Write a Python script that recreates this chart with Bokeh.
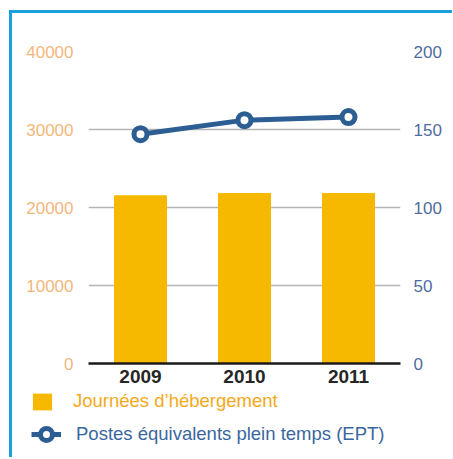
from bokeh.plotting import figure
from bokeh.layouts import column
from bokeh.models import Range1d, LinearAxis, FactorRange, Legend, LegendItem, FixedTicker, ColumnDataSource
from bokeh.embed import file_html
from bokeh.resources import INLINE

years = ["2009", "2010", "2011"]
journees = [21500, 21800, 21800]
ept = [147, 156, 158]
left_ticks = [0, 10000, 20000, 30000, 40000]
right_ticks = [0, 50, 100, 150, 200]
legend_labels = ["Journées d’hébergement", "Postes équivalents plein temps (EPT)"]

BAR = "#f6b900"
LINE = "#2c5d93"
FONT = "Liberation Sans"

p = figure(width=440, height=376, x_range=FactorRange(factors=years, range_padding=0),
           y_range=Range1d(0, 40000), output_backend="svg", toolbar_location=None,
           min_border_left=76, min_border_right=52, min_border_top=38, min_border_bottom=26)
p.frame_align = False
p.extra_y_ranges = {"ept": Range1d(0, 200)}
p.outline_line_color = None
p.background_fill_color = "white"
p.border_fill_color = "white"

src = ColumnDataSource(dict(year=years, j=journees, e=ept))

p.vbar(x="year", top="j", width=0.5, source=src, color=BAR)
p.line(x="year", y="e", source=src, y_range_name="ept", line_color=LINE, line_width=5)
p.scatter(x="year", y="e", source=src, y_range_name="ept", size=13,
          fill_color="white", line_color=LINE, line_width=5)

la = p.yaxis[0]
la.ticker = FixedTicker(ticks=left_ticks)
la.axis_line_color = None
la.major_tick_line_color = None
la.minor_tick_line_color = None
la.major_label_text_color = "#f4b77c"
la.major_label_text_font = FONT
la.major_label_text_font_size = "17px"
la.major_label_standoff = 9

ra = LinearAxis(y_range_name="ept", ticker=FixedTicker(ticks=right_ticks))
ra.axis_line_color = None
ra.major_tick_line_color = None
ra.minor_tick_line_color = None
ra.major_label_text_color = "#4f6ca0"
ra.major_label_text_font = FONT
ra.major_label_text_font_size = "17px"
ra.major_label_standoff = 7
p.add_layout(ra, "right")

xa = p.xaxis[0]
xa.axis_line_color = "#1a1a1a"
xa.axis_line_width = 2.5
xa.major_tick_line_color = None
xa.minor_tick_line_color = None
xa.major_label_text_color = "#262626"
xa.major_label_text_font = FONT
xa.major_label_text_font_size = "19px"
xa.major_label_text_font_style = "bold"
xa.major_label_standoff = 0

p.xgrid.grid_line_color = None
p.ygrid.ticker = FixedTicker(ticks=left_ticks[1:])
p.ygrid.grid_line_color = "#b5b5b5"
p.ygrid.grid_line_width = 1.5

# legend panel (its sample glyphs sit outside the visible range)
p2 = figure(width=440, height=68, x_range=Range1d(0, 1), y_range=Range1d(0, 1),
            x_axis_type=None, y_axis_type=None, output_backend="svg", toolbar_location=None,
            min_border=0)
p2.frame_align = False
p2.outline_line_color = None
p2.xgrid.grid_line_color = None
p2.ygrid.grid_line_color = None
sq = p2.vbar(x=[5], top=[5], width=0.1, fill_color=BAR, line_color=None)
ln2 = p2.line(x=[5, 6], y=[5, 5], line_color=LINE, line_width=5)
pt2 = p2.scatter(x=[5], y=[5], size=13, fill_color="white", line_color=LINE, line_width=5)

common = dict(padding=0, margin=0, border_line_color=None, background_fill_alpha=0,
              label_height=18, label_text_font=FONT, label_text_font_size="18.5px")
leg1 = Legend(items=[LegendItem(label=legend_labels[0], renderers=[sq])],
              location=(18, 45), glyph_width=24, glyph_height=21, label_standoff=19,
              label_text_color="#f3a91a", **common)
leg2 = Legend(items=[LegendItem(label=legend_labels[1], renderers=[ln2, pt2])],
              location=(19, 8), glyph_width=30, glyph_height=30, label_standoff=15,
              label_text_color="#3a66a0", **common)
p2.add_layout(leg1, "center")
p2.add_layout(leg2, "center")

layout = column(p, p2, spacing=0,
                styles={"border-left": "3px solid #1a9fdf", "border-top": "3px solid #1a9fdf",
                        "margin-left": "9px", "margin-top": "10px", "background": "white"})

open("out.html", "w").write(file_html(layout, INLINE))
